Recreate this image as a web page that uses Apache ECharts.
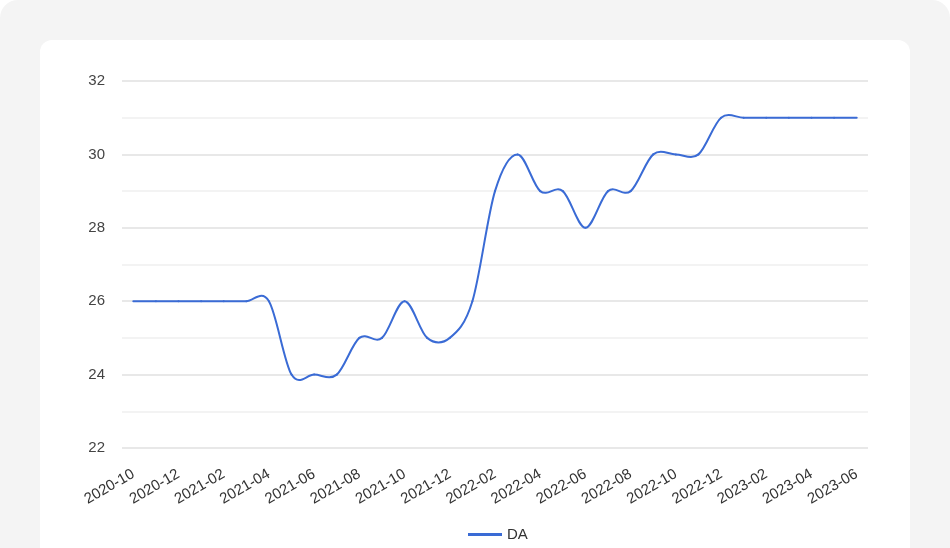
<!DOCTYPE html>
<html><head><meta charset="utf-8">
<script src="https://cdn.jsdelivr.net/npm/echarts@6/dist/echarts.min.js"></script>
<style>
html,body{margin:0;padding:0;background:#fff;width:950px;height:548px;overflow:hidden;}
#bg{position:absolute;left:0;top:0;width:950px;height:568px;background:#f4f4f4;border-radius:18px;}
#card{position:absolute;left:40px;top:40px;width:870px;height:540px;background:#fff;border-radius:12px;}
#chart{position:absolute;left:0;top:0;width:950px;height:548px;}
</style></head>
<body>
<div id="bg"></div><div id="card"></div>
<div id="chart"></div>
<script>
const categories = ['2020-10','2020-11','2020-12','2021-01','2021-02','2021-03','2021-04','2021-05','2021-06','2021-07','2021-08','2021-09','2021-10','2021-11','2021-12','2022-01','2022-02','2022-03','2022-04','2022-05','2022-06','2022-07','2022-08','2022-09','2022-10','2022-11','2022-12','2023-01','2023-02','2023-03','2023-04','2023-05','2023-06'];
const daValues = [26,26,26,26,26,26,26,24,24,24,25,25,26,25,25,26,29,30,29,29,28,29,29,30,30,30,31,31,31,31,31,31,31];
const seriesName = 'DA';
const lineColor = '#3a6bd5';
const fontFam = 'Liberation Sans, Arial, sans-serif';

// Catmull-Rom style smoothing through every data point (library coordinates via api.coord)
const tension = 1 / 6;
function renderSegment(params, api) {
  const i = params.dataIndex;
  const n = daValues.length;
  if (i >= n - 1) return null;
  const P = (k) => api.coord([Math.max(0, Math.min(n - 1, k)), daValues[Math.max(0, Math.min(n - 1, k))]]);
  const p0 = P(i - 1), p1 = P(i), p2 = P(i + 1), p3 = P(i + 2);
  return {
    type: 'bezierCurve',
    shape: {
      x1: p1[0], y1: p1[1], x2: p2[0], y2: p2[1],
      cpx1: p1[0] + (p2[0] - p0[0]) * tension,
      cpy1: p1[1] + (p2[1] - p0[1]) * tension,
      cpx2: p2[0] - (p3[0] - p1[0]) * tension,
      cpy2: p2[1] - (p3[1] - p1[1]) * tension
    },
    style: {stroke: lineColor, lineWidth: 2, fill: null, lineCap: 'round'}
  };
}

const chart = echarts.init(document.getElementById('chart'), null, {renderer:'canvas'});
chart.setOption({
  backgroundColor: 'transparent',
  animation: false,
  grid: {left: 122, right: 82, top: 81, bottom: 100, containLabel: false},
  legend: {
    top: 522, left: 463,
    itemWidth: 34, itemHeight: 3, itemGap: 10,
    data: [{name: seriesName, icon: 'rect'}],
    textStyle: {color: '#333', fontSize: 15, fontFamily: fontFam}
  },
  xAxis: {
    type: 'category',
    data: categories,
    boundaryGap: true,
    axisLine: {show: false},
    axisTick: {show: false},
    axisLabel: {
      interval: 1, rotate: 30, margin: 25,
      color: '#333', fontSize: 15, fontFamily: fontFam
    },
    splitLine: {show: false}
  },
  yAxis: {
    type: 'value',
    min: 22, max: 32, interval: 2,
    axisLine: {show: false},
    axisTick: {show: false},
    axisLabel: {margin: 17, color: '#444', fontSize: 15, fontFamily: fontFam},
    splitLine: {show: true, lineStyle: {color: '#e0e0e0', width: 1.5}},
    minorTick: {show: false, splitNumber: 2},
    minorSplitLine: {show: true, lineStyle: {color: '#f0f0f0', width: 1.5}}
  },
  series: [{
    name: seriesName,
    type: 'custom',
    renderItem: renderSegment,
    data: daValues.map((v, i) => [i, v]),
    encode: {x: 0, y: 1},
    itemStyle: {color: lineColor}
  }]
});
</script>
</body></html>
